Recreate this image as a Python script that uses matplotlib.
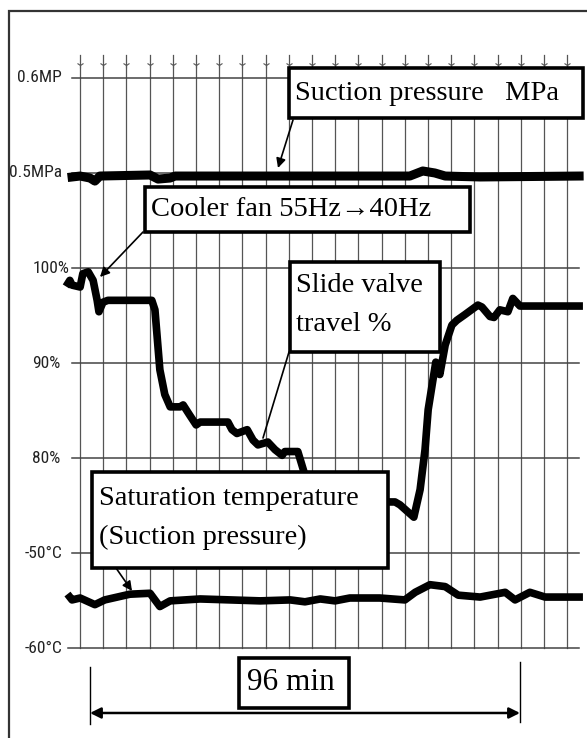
import matplotlib
matplotlib.use("Agg")
from matplotlib import pyplot as plt
from matplotlib.patches import Rectangle
from matplotlib import font_manager

# Time in minutes (0 = start of the 96 min span)
pressure_t = [-4.0, -2.2, 0.0, 1.1, 2.2, 13.4, 15.2, 17.9, 19.0, 46.9, 71.4, 74.3, 77.0, 79.3, 87.1, 109.2]
pressure_mpa = [0.4957, 0.4967, 0.4946, 0.4914, 0.4967, 0.4978, 0.4935, 0.4946, 0.4967, 0.4967,
                0.4967, 0.502, 0.4999, 0.4967, 0.4957, 0.4967]

valve_t = [-4.9, -4.5, -4.0, -2.2, -1.6, -0.4, 0.7, 1.6, 2.0, 2.9, 4.0, 13.8, 14.5, 15.6, 16.7,
           17.9, 20.1, 20.8, 22.3, 23.7, 24.6, 30.8, 31.7, 32.8, 35.1, 36.4, 37.5, 39.7, 41.3,
           42.9, 43.5, 46.4, 47.3, 48.0, 48.7, 50.2, 66.5, 68.1, 69.2, 72.3, 73.7, 74.8, 75.5,
           77.2, 78.1, 79.3, 80.8, 81.9, 83.7, 86.6, 87.5, 89.3, 90.2, 91.5, 93.3, 94.4, 96.0,
           97.1, 109.2]
valve_pct = [98.4, 98.7, 98.2, 98.0, 99.4, 99.6, 98.7, 96.6, 95.4, 96.4, 96.6, 96.6, 95.6, 89.3,
             86.7, 85.4, 85.4, 85.6, 84.5, 83.5, 83.8, 83.8, 83.0, 82.6, 83.0, 81.9, 81.4, 81.7,
             80.9, 80.3, 80.7, 80.7, 79.3, 78.2, 77.5, 75.4, 75.4, 75.4, 75.1, 73.8, 76.7, 80.9,
             85.1, 90.1, 88.8, 91.9, 94.0, 94.5, 95.1, 96.1, 95.9, 94.9, 94.8, 95.6, 95.4, 96.8,
             96.0, 96.0, 96.0]

sat_t = [-4.5, -4.0, -2.2, 1.1, 3.3, 8.9, 13.4, 15.6, 17.9, 24.6, 31.3, 38.0, 44.7, 48.0, 51.4,
         54.7, 58.0, 64.7, 70.3, 72.6, 75.9, 79.3, 82.2, 87.1, 92.7, 94.9, 98.2, 101.6, 109.2]
sat_temp = [-54.6, -54.9, -54.7, -55.4, -54.9, -54.3, -54.2, -55.6, -55.0, -54.8, -54.9, -55.0,
            -54.9, -55.1, -54.8, -55.0, -54.7, -54.7, -54.9, -54.1, -53.3, -53.5, -54.4, -54.6,
            -54.1, -54.9, -54.1, -54.6, -54.6]

tick_labels = ["-60°C", "-50°C", "80%", "90%", "100%", "0.5MPa", "0.6MP"]
span_min = 96


# each band of the chart has its own scale, stacked on one grid
def p_gu(p):
    return [5 + (v - 0.5) / 0.1 for v in p]


def v_gu(p):
    return [2 + (v - 80) / 10 for v in p]


def t_gu(p):
    return [1 + (v + 50) / 10 for v in p]


W, H = 587, 738
fig = plt.figure(figsize=(W / 100, H / 100), dpi=100)
ax = fig.add_axes([0, 0, 1, 1])
ax.set_xlim(-20.09, 110.96)
ax.set_ylim(-0.942, 6.818)
ax.axis("off")


def fp(x, y):
    return (x / W, 1 - y / H)


# outer frame (only left and top visible)
fig.patches.append(Rectangle(fp(9, 800), 700 / W, 789 / H, transform=fig.transFigure,
                             fill=False, ec="#333333", lw=1.6))

# grid
grid_t0, grid_step = -2.23, 5.18
for k in range(22):
    ax.plot([grid_t0 + k * grid_step] * 2, [0, 6.24], color="#555555", lw=0.9, zorder=1)
    ax.plot(grid_t0 + k * grid_step, 6.13, marker="1", ms=5, mew=0.8, color="#555555", zorder=1)
for i in range(7):
    ax.plot([-4.9 if i == 0 else -4.0, 109.2], [i, i], color="#444444", lw=1.1, zorder=1)

# condensed sans for the axis labels, if one is around
names = {f.name for f in font_manager.fontManager.ttflist}
narrow_font = None
for cand in ["Liberation Sans Narrow", "Arial Narrow", "Roboto Condensed", "Open Sans Condensed"]:
    if cand in names:
        narrow_font = cand
        break
stretch = "condensed"
if narrow_font is None:
    cond = [f for f in font_manager.fontManager.ttflist
            if f.name == "DejaVu Sans" and "ondensed" in str(f.stretch) + f.fname]
    narrow_font = "DejaVu Sans"
    lab_size = 11.5 if cond else 10.5
else:
    lab_size = 12.5

for i, lab in enumerate(tick_labels):
    if lab.endswith("%"):
        ax.text(-12.9, i, lab, ha="left", va="center", fontsize=lab_size, family=narrow_font,
                fontstretch=stretch, color="#222222")
    else:
        ax.text(-6.2, i, lab, ha="right", va="center", fontsize=lab_size, family=narrow_font,
                fontstretch=stretch, color="#222222")

# series
ax.plot(pressure_t, p_gu(pressure_mpa), color="black", lw=6.5, solid_joinstyle="round", zorder=3)
ax.plot(valve_t, v_gu(valve_pct), color="black", lw=5.5, solid_joinstyle="round", zorder=3)
ax.plot(sat_t, t_gu(sat_temp), color="black", lw=5.5, solid_joinstyle="round", zorder=3)

serif = ["Liberation Serif", "DejaVu Serif"]


def box(x0, y0, x1, y1, text, tx, ty, size=20.5, ha="left"):
    (fx0, fy1), (fx1, fy0) = fp(x0, y0), fp(x1, y1)
    fig.patches.append(Rectangle((fx0, fy0), fx1 - fx0, fy1 - fy0, transform=fig.transFigure,
                                 fc="white", ec="black", lw=2.6, zorder=5))
    fig.text(*fp(tx, ty), text, ha=ha, va="center", fontsize=size,
             family=serif, linespacing=1.72, zorder=6)


def arrow(x0, y0, x1, y1, head=True):
    ax.annotate("", xy=fp(x1, y1), xytext=fp(x0, y0), xycoords="figure fraction",
                textcoords="figure fraction",
                arrowprops=dict(arrowstyle="-|>" if head else "-", color="black", lw=1.2,
                                mutation_scale=14, shrinkA=0, shrinkB=0), zorder=4)


# annotations
arrow(293, 120, 278, 168)
arrow(143, 232, 100, 277)
arrow(289, 352, 263, 438, head=False)
arrow(116, 568, 132, 591)

box(289, 68, 583, 118, "Suction pressure   MPa", 295, 93)
box(145, 187, 470, 232, "Cooler fan 55Hz\u219240Hz", 151, 210)
box(290, 262, 440, 352, "Slide valve\ntravel %", 296, 305)
box(92, 472, 388, 568, "Saturation temperature\n(Suction pressure)", 99, 518)

# 96 min span
ax.annotate("", xy=(span_min, -0.679), xytext=(0, -0.679),
            arrowprops=dict(arrowstyle="<|-|>", color="black", lw=1.8, mutation_scale=16,
                            shrinkA=0, shrinkB=0), zorder=4)
ax.plot([0, 0], [-0.20, -0.80], color="black", lw=1.0)
ax.plot([span_min, span_min], [-0.14, -0.77], color="black", lw=1.0)
box(239, 658, 349, 708, "96 min", 291, 683, size=22.5, ha="center")

fig.savefig("out.png", dpi=100)
